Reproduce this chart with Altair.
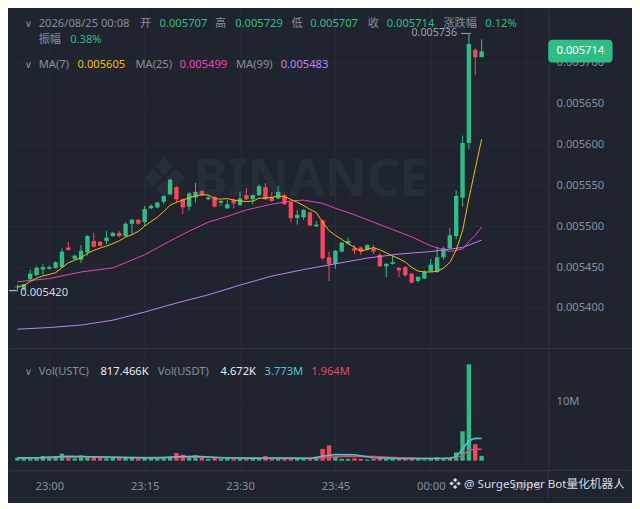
import altair as alt
import pandas as pd

# ---------------- values ----------------
times = pd.date_range("2026-08-24 22:55", periods=74, freq="min")

opens = [0.005425, 0.005423, 0.005435, 0.005440, 0.005447, 0.005448, 0.005449, 0.005450, 0.005474, 0.005460,
         0.005459, 0.005468, 0.005482, 0.005481, 0.005482, 0.005488, 0.005492, 0.005488, 0.005503, 0.005508,
         0.005505, 0.005522, 0.005523, 0.005530, 0.005539, 0.005548, 0.005533, 0.005524, 0.005535, 0.005543,
         0.005533, 0.005536, 0.005529, 0.005522, 0.005532, 0.005526, 0.005538, 0.005533, 0.005538, 0.005548,
         0.005536, 0.005534, 0.005538, 0.005530, 0.005510, 0.005511, 0.005517, 0.005500, 0.005507, 0.005462,
         0.005454, 0.005469, 0.005479, 0.005473, 0.005474, 0.005471, 0.005473, 0.005465, 0.005451, 0.005454,
         0.005449, 0.005450, 0.005442, 0.005433, 0.005436, 0.005445, 0.005444, 0.005462, 0.005473, 0.005488,
         0.005535, 0.005602, 0.005716, 0.005707]
highs = [0.005429, 0.005430, 0.005447, 0.005451, 0.005454, 0.005452, 0.005457, 0.005473, 0.005481, 0.005465,
         0.005477, 0.005489, 0.005492, 0.005482, 0.005494, 0.005493, 0.005494, 0.005505, 0.005509, 0.005509,
         0.005525, 0.005527, 0.005530, 0.005538, 0.005558, 0.005549, 0.005534, 0.005542, 0.005553, 0.005544,
         0.005538, 0.005537, 0.005532, 0.005532, 0.005534, 0.005542, 0.005547, 0.005539, 0.005551, 0.005553,
         0.005542, 0.005549, 0.005540, 0.005531, 0.005520, 0.005521, 0.005518, 0.005506, 0.005508, 0.005469,
         0.005471, 0.005481, 0.005486, 0.005477, 0.005475, 0.005478, 0.005477, 0.005467, 0.005455, 0.005464,
         0.005450, 0.005451, 0.005443, 0.005439, 0.005446, 0.005460, 0.005475, 0.005475, 0.005498, 0.005544,
         0.005611, 0.005736, 0.005718, 0.005729]
lows = [0.005420, 0.005421, 0.005433, 0.005439, 0.005440, 0.005447, 0.005448, 0.005449, 0.005470, 0.005459,
        0.005455, 0.005464, 0.005474, 0.005475, 0.005478, 0.005487, 0.005486, 0.005487, 0.005490, 0.005502,
        0.005500, 0.005521, 0.005522, 0.005527, 0.005538, 0.005529, 0.005515, 0.005519, 0.005529, 0.005537,
        0.005532, 0.005523, 0.005525, 0.005521, 0.005522, 0.005525, 0.005532, 0.005527, 0.005537, 0.005532,
        0.005530, 0.005533, 0.005526, 0.005505, 0.005502, 0.005508, 0.005500, 0.005499, 0.005459, 0.005433,
        0.005448, 0.005468, 0.005478, 0.005466, 0.005465, 0.005470, 0.005466, 0.005450, 0.005438, 0.005453,
        0.005438, 0.005438, 0.005430, 0.005431, 0.005435, 0.005444, 0.005443, 0.005459, 0.005471, 0.005484,
        0.005524, 0.005594, 0.005685, 0.005707]
closes = [0.005426, 0.005429, 0.005442, 0.005449, 0.005450, 0.005450, 0.005456, 0.005469, 0.005471, 0.005464,
          0.005470, 0.005488, 0.005475, 0.005476, 0.005486, 0.005492, 0.005488, 0.005503, 0.005508, 0.005503,
          0.005521, 0.005525, 0.005529, 0.005537, 0.005557, 0.005533, 0.005523, 0.005540, 0.005542, 0.005538,
          0.005535, 0.005524, 0.005531, 0.005527, 0.005528, 0.005534, 0.005533, 0.005538, 0.005549, 0.005533,
          0.005531, 0.005542, 0.005527, 0.005510, 0.005514, 0.005520, 0.005501, 0.005502, 0.005461, 0.005454,
          0.005470, 0.005480, 0.005482, 0.005470, 0.005469, 0.005477, 0.005469, 0.005451, 0.005454, 0.005456,
          0.005446, 0.005440, 0.005431, 0.005438, 0.005444, 0.005453, 0.005462, 0.005473, 0.005489, 0.005537,
          0.005602, 0.005723, 0.005707, 0.005714]
# volume in millions of USTC
volumes = [0.5, 0.4, 0.5, 0.6, 0.8, 0.7, 0.8, 1.2, 0.5, 0.4,
           0.9, 0.6, 0.5, 0.5, 0.4, 0.5, 0.5, 0.6, 0.5, 0.4,
           0.5, 0.4, 0.4, 0.4, 0.6, 1.3, 1.0, 0.5, 0.9, 0.5,
           0.3, 0.5, 0.3, 0.4, 0.3, 0.4, 0.3, 0.3, 0.3, 0.8,
           0.4, 0.3, 0.3, 0.5, 0.3, 0.3, 0.4, 0.3, 2.0, 2.6,
           0.7, 0.3, 0.3, 0.4, 0.3, 0.2, 0.3, 0.5, 0.3, 0.3,
           0.4, 0.4, 0.5, 0.3, 0.2, 0.3, 0.6, 0.3, 0.4, 1.4,
           5.0, 16.4, 2.8, 0.817466]

ma25_idx = [0, 5, 10, 15, 20, 24, 27, 30, 33, 36, 40, 43, 45, 48, 50, 53, 56, 59, 62, 65, 68, 70, 71, 72, 73]
ma25_val = [0.005432, 0.005436, 0.005444, 0.005449, 0.005465, 0.005482, 0.005494, 0.005505, 0.005512, 0.005520,
            0.005527, 0.005531, 0.005532, 0.005528, 0.005522, 0.005514, 0.005505, 0.005496, 0.005487, 0.005476,
            0.005469, 0.005472, 0.005481, 0.005489, 0.005499]
ma99_idx = [0, 5, 10, 15, 20, 25, 30, 35, 40, 45, 50, 55, 60, 65, 68, 70, 72, 73]
ma99_val = [0.005374, 0.005376, 0.005379, 0.005385, 0.005395, 0.005406, 0.005416, 0.005428, 0.005439, 0.005447,
            0.005454, 0.005461, 0.005466, 0.005469, 0.005472, 0.005474, 0.005480, 0.005483]
vma5_idx = [0, 4, 8, 12, 17, 22, 25, 28, 32, 37, 41, 46, 48, 50, 53, 56, 60, 64, 67, 68, 69, 70, 71, 72, 73]
vma5_val = [0.45, 0.55, 0.75, 0.65, 0.55, 0.45, 0.65, 0.75, 0.5, 0.4, 0.45, 0.4, 0.75, 1.05, 1.0, 0.5, 0.35, 0.35,
            0.4, 0.45, 0.65, 2.0, 3.4, 3.8, 3.773]
vma10_idx = [0, 6, 10, 15, 20, 26, 30, 36, 42, 47, 49, 52, 56, 60, 64, 67, 68, 69, 70, 71, 72, 73]
vma10_val = [0.45, 0.55, 0.65, 0.6, 0.55, 0.6, 0.6, 0.45, 0.4, 0.4, 0.6, 0.75, 0.7, 0.5, 0.35, 0.35, 0.4, 0.5,
             0.9, 1.8, 1.95, 1.964]

price_ticks = [0.0054, 0.00545, 0.0055, 0.00555, 0.0056, 0.00565, 0.0057]
time_ticks = ["23:00", "23:15", "23:30", "23:45", "00:00", "00:15"]

# ---------------- tables ----------------
df = pd.DataFrame(dict(t=times, o=opens, h=highs, l=lows, c=closes, v=volumes))
ma25_df = pd.DataFrame({"t": times[ma25_idx], "m": ma25_val})
ma99_df = pd.DataFrame({"t": times[ma99_idx], "m": ma99_val})
vma5_df = pd.DataFrame({"t": times[vma5_idx], "m": vma5_val})
vma10_df = pd.DataFrame({"t": times[vma10_idx], "m": vma10_val})

# ---------------- style ----------------
BG = "#1f242e"
GRID = "#272d37"
SEP = "#323844"
GRAY = "#848e9c"
WHITE = "#eaecef"
GREEN = "#2ebd85"
RED = "#f6465d"
YELLOW = "#f0b90b"
PINK = "#eb40b5"
PURPLE = "#b385f8"
CYAN = "#58c1d0"
VRED = "#e4456a"
FONT = "'Noto Sans', 'Noto Sans CJK SC', sans-serif"
FS = 11.2

W, H1, H2, AXB, AXR = 541, 341, 121, 31, 83
TOT_W = W + AXR


def dt(s, sec=0):
    hh, mm = int(s[:2]), int(s[3:5])
    return alt.DateTime(year=2026, month=8, date=24 if hh >= 12 else 25, hours=hh, minutes=mm, seconds=sec)


tick_dt = [dt(s) for s in time_ticks]
xscale = alt.Scale(domain=[dt("22:54", 27), dt("00:17", 42)], nice=False)

price_xaxis = alt.Axis(values=tick_dt, grid=True, gridColor=GRID, labels=False, ticks=False, domain=False,
                       title=None, minExtent=0, maxExtent=0)
vol_xaxis = alt.Axis(values=tick_dt, format="%H:%M", grid=True, gridColor=GRID, ticks=False, tickSize=0,
                     domain=True, domainColor=SEP, labelPadding=16.5, labelBaseline="middle", labelColor=GRAY,
                     labelFontSize=FS, labelFont=FONT, title=None, labelFlush=False, labelOverlap=False,
                     minExtent=AXB, maxExtent=AXB)
X_price = alt.X("t:T", scale=xscale, axis=price_xaxis)
X_vol = alt.X("t:T", scale=xscale, axis=vol_xaxis)

yscale = alt.Scale(domain=[0.0053501, 0.0057662], nice=False, zero=False)
yaxis = alt.Axis(orient="right", values=price_ticks, format=".6f", grid=True, gridColor=GRID, ticks=False,
                 domain=True, domainColor=SEP, labelPadding=7.8, labelColor=GRAY, labelFontSize=FS,
                 labelFont=FONT, title=None, minExtent=AXR, maxExtent=AXR)
vscale = alt.Scale(domain=[-1.645, 18.91], nice=False, zero=False)
vaxis = alt.Axis(orient="right", values=[10], labelExpr="'10M'", grid=True, gridColor=GRID, ticks=False,
                 domain=True, domainColor=SEP, labelPadding=7.8, labelColor=GRAY, labelFontSize=FS,
                 labelFont=FONT, title=None, minExtent=AXR, maxExtent=AXR)

updown = alt.condition("datum.c >= datum.o", alt.value(GREEN), alt.value(RED))
one = pd.DataFrame({"k": [0]})


def txt(s, x, y, color=GRAY, size=FS, align="left", weight="normal", font=FONT):
    return alt.Chart(pd.DataFrame({"s": [s]})).mark_text(
        align=align, baseline="middle", fontSize=size, font=font, color=color, fontWeight=weight
    ).encode(x=alt.value(x), y=alt.value(y), text="s:N")


def rule(x, x2, y, y2, color=SEP):
    return alt.Chart(one).mark_rule(color=color, strokeWidth=1).encode(
        x=alt.value(x), x2=alt.value(x2), y=alt.value(y), y2=alt.value(y2))


def frame(h):
    return alt.Chart(one).mark_rect(opacity=0).encode(
        x=alt.value(0), x2=alt.value(TOT_W), y=alt.value(0), y2=alt.value(h))


# ---------------- price pane ----------------
base = alt.Chart(df)
wicks = base.mark_rule(strokeWidth=1).encode(
    x=X_price, y=alt.Y("l:Q", scale=yscale, axis=yaxis), y2="h:Q", color=updown)
bodies = base.mark_bar(size=4.4).encode(x=X_price, y=alt.Y("o:Q", scale=yscale, axis=yaxis), y2="c:Q",
                                        color=updown)
ma7 = base.transform_window(ma7="mean(c)", frame=[-6, 0], sort=[alt.SortField("t")]).mark_line(
    color=YELLOW, strokeWidth=1).encode(x=X_price, y=alt.Y("ma7:Q", scale=yscale, axis=yaxis))
ma25 = alt.Chart(ma25_df).mark_line(color=PINK, strokeWidth=1).encode(
    x=X_price, y=alt.Y("m:Q", scale=yscale, axis=yaxis))
ma99 = alt.Chart(ma99_df).mark_line(color=PURPLE, strokeWidth=1).encode(
    x=X_price, y=alt.Y("m:Q", scale=yscale, axis=yaxis))

wm_logo = txt("❖", 156, 173, color="#282e38", size=56, align="center", font="DejaVu Sans")
wm_text = txt("BINANCE", 185, 173, color="#282e38", size=51.5, weight="bold")

y1, y2r, y3 = 15.0, 31.3, 56.5
header = [
    txt("∨", 19.5, y1, size=10, align="center", font="DejaVu Sans"),
    txt("2026/08/25 00:08", 29.8, y1),
    txt("开", 131.3, y1), txt("0.005707", 151.1, y1, GREEN),
    txt("高", 206.7, y1), txt("0.005729", 226.9, y1, GREEN),
    txt("低", 283.3, y1), txt("0.005707", 302.3, y1, GREEN),
    txt("收", 359.8, y1), txt("0.005714", 378.9, y1, GREEN),
    txt("涨跌幅", 435.8, y1), txt("0.12%", 477.8, y1, GREEN),
    txt("振幅", 29.8, y2r), txt("0.38%", 61.4, y2r, GREEN),
    txt("∨", 19.5, y3, size=10, align="center", font="DejaVu Sans"),
    txt("MA(7)", 29.8, y3), txt("0.005605", 68.8, y3, YELLOW),
    txt("MA(25)", 126.8, y3), txt("0.005499", 171.1, y3, PINK),
    txt("MA(99)", 227.7, y3), txt("0.005483", 272.6, y3, PURPLE),
]
hi_lbl = txt("0.005736", 449.5, 24.2, color="#9aa1ab", size=10.7, align="right")
hi_dash = rule(453.4, 463.6, 24.7, 24.7, color="#9aa1ab")
lo_lbl = txt("0.005420", 11.4, 284.8, color="#d5d9df", size=FS)
lo_dash = rule(0, 7.8, 282.8, 282.8, color="#d5d9df")

price_box = alt.Chart(one).mark_rect(color=GREEN, cornerRadius=4).encode(
    x=alt.value(541), x2=alt.value(605.5), y=alt.value(31), y2=alt.value(54))
price_txt = txt("0.005714", 573.2, 42.8, color="#ffffff", size=FS, align="center")
pane_sep = rule(0, TOT_W, H1, H1)

price = alt.layer(
    frame(H1), wm_logo, wm_text, wicks, bodies, ma99, ma25, ma7,
    *header, hi_lbl, hi_dash, lo_lbl, lo_dash, price_box, price_txt, pane_sep
).properties(width=W, height=H1)

# ---------------- volume pane ----------------
vbars = alt.Chart(df).mark_bar(size=4.4).encode(
    x=X_vol, y=alt.Y("v:Q", scale=vscale, axis=vaxis), y2=alt.datum(0), color=updown)
vma5 = alt.Chart(vma5_df).mark_line(color=CYAN, strokeWidth=1.5).encode(
    x=X_vol, y=alt.Y("m:Q", scale=vscale, axis=vaxis))
vma10 = alt.Chart(vma10_df).mark_line(color=VRED, strokeWidth=1.5).encode(
    x=X_vol, y=alt.Y("m:Q", scale=vscale, axis=vaxis))

yv = 22.2
vhead = [
    txt("∨", 19.5, yv, size=10, align="center", font="DejaVu Sans"),
    txt("Vol(USTC)", 29.8, yv), txt("817.466K", 91.7, yv, WHITE),
    txt("Vol(USDT)", 149.2, yv), txt("4.672K", 212.2, yv, WHITE),
    txt("3.773M", 256.4, yv, CYAN), txt("1.964M", 303.2, yv, VRED),
]
wm_bot = txt("❖ @ SurgeSniper Bot量化机器人", 441.7, 135.2, color="#d6dae0", size=11.7)
sep_h = rule(W, TOT_W, H2, H2)
sep_v = rule(W, W, H2, H2 + AXB)

vol = alt.layer(frame(H2 + AXB), vbars, vma10, vma5, *vhead, sep_h, sep_v, wm_bot).properties(
    width=W, height=H2)

chart = alt.vconcat(price, vol, spacing=0).properties(
    padding=0, background=BG
).configure_view(stroke=None)

chart.save("out.html", embed_options={"renderer": "svg", "actions": False})
